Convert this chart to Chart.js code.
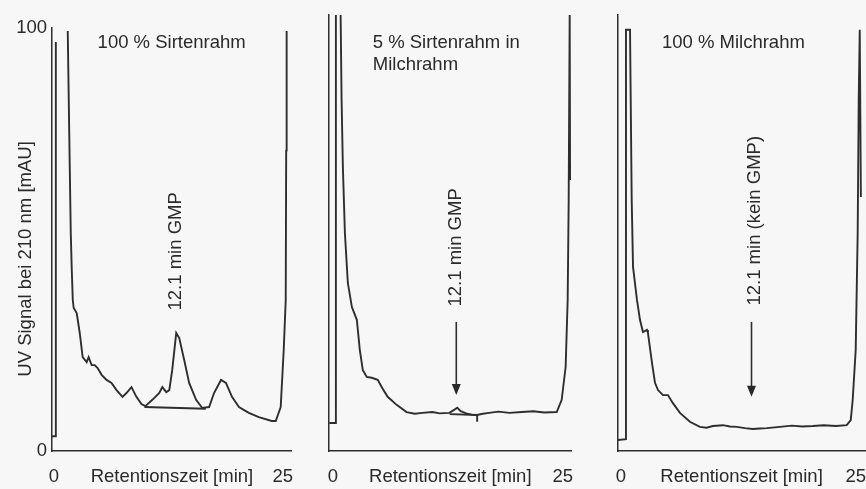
<!DOCTYPE html>
<html lang="de">
<head>
<meta charset="utf-8">
<title>GMP-Nachweis HPLC</title>
<script src="https://cdn.jsdelivr.net/npm/chart.js@4.4.1/dist/chart.umd.min.js"></script>
<style>
  html, body { margin: 0; padding: 0; background: #f7f7f7; }
  body { width: 866px; height: 489px; position: relative; overflow: hidden; }
  canvas { position: absolute; top: 0; }
</style>
</head>
<body>
<canvas id="panel1" width="293" height="489" style="left:0"></canvas>
<canvas id="panel2" width="273" height="489" style="left:300px"></canvas>
<canvas id="panel3" width="276" height="489" style="left:590px"></canvas>
<script>
// Tick labels
const xTickValues = [0, 25];
const yTickValues = [0, 100];

// 100 % Sirtenrahm (retention time in min, signal in mAU, null = off scale)
const sirtenX = [-0.22, 0.22, 0.22, 0.3, 1.52, 1.63, 1.74, 1.85, 1.96, 2.07, 2.17, 2.5, 2.83, 3.15, 3.59, 3.8, 4.13, 4.46, 4.78, 5.22, 5.76, 6.3, 6.85, 7.5, 7.93, 8.48, 9.02, 9.57, 10.0, 10.76, 11.52, 11.85, 12.28, 12.61, 12.93, 13.37, 13.7, 14.24, 14.78, 15.54, 16.2, 16.96, 17.5, 18.26, 18.8, 19.46, 20.22, 21.3, 22.39, 23.8, 24.24, 24.78, 25.11, 25.33, 25.38, 25.43];
const sirtenY = [3.5, 3.5, 96.7, null, 99.3, 83.0, 67.1, 51.5, 42.8, 35.7, 33.8, 32.6, 27.9, 22.2, 21.0, 22.2, 20.3, 20.3, 19.6, 18.0, 16.8, 16.1, 14.4, 12.8, 13.7, 15.1, 12.8, 11.1, 10.6, 12.1, 13.7, 15.1, 13.9, 14.4, 19.1, 27.9, 26.7, 21.5, 16.1, 12.1, 10.2, 10.4, 13.7, 16.8, 16.1, 12.8, 10.4, 9.0, 8.0, 7.1, 7.1, 10.4, 23.9, 35.7, 71.0, 99.3];
const sirtenBaseX = [9.9, 16.6];
const sirtenBaseY = [10.4, 10.0];

// 5 % Sirtenrahm in Milchrahm
const mix5X = [-0.4, 0.32, 0.32, 0.83, 0.94, 1.08, 1.3, 1.62, 2.06, 2.38, 2.6, 2.92, 3.25, 3.68, 4.22, 4.87, 5.3, 5.95, 6.93, 8.01, 8.9, 9.74, 10.82, 11.6, 12.66, 13.1, 13.53, 13.9, 14.5, 15.1, 15.69, 16.3, 16.99, 18.0, 19.2, 20.56, 21.8, 23.0, 24.35, 24.89, 25.32, 25.54, 25.65, 25.76, 25.8];
const mix5Y = [6.6, 6.6, 104, 104, 83, 67.1, 51.5, 39.7, 34.0, 32.2, 31.0, 23.9, 19.1, 17.5, 17.3, 16.8, 15.1, 12.8, 10.9, 9.2, 8.8, 9.0, 9.2, 8.9, 9.0, 9.6, 10.2, 9.4, 8.9, 8.6, 8.5, 8.8, 9.0, 9.3, 9.0, 9.2, 9.4, 9.1, 9.2, 12.1, 19.9, 35.7, 59.3, 104, 64];
const mix5BaseX = [12.7, 15.69, 15.69];
const mix5BaseY = [8.7, 8.5, 6.9];

// 100 % Milchrahm
const milchX = [-0.32, 0.53, 0.53, 0.96, 1.14, 1.28, 1.7, 2.02, 2.34, 2.77, 2.87, 3.3, 3.62, 3.94, 4.47, 5.0, 5.53, 6.28, 7.34, 8.4, 9.1, 9.79, 10.85, 11.6, 12.34, 13.2, 14.04, 14.8, 15.53, 16.91, 18.2, 19.3, 20.43, 21.6, 22.9, 24.04, 24.47, 24.68, 25.0, 25.21, 25.32, 25.43, 25.55];
const milchY = [2.6, 2.8, 99.5, 99.5, 59.3, 43.5, 35.7, 31.0, 28.1, 28.6, 27.9, 20.8, 16.1, 14.4, 13.2, 13.2, 11.3, 9.0, 6.9, 5.7, 5.5, 5.9, 6.1, 5.8, 5.7, 5.4, 5.2, 5.3, 5.4, 5.7, 6.0, 5.8, 5.9, 6.1, 5.9, 6.1, 7.3, 12.1, 23.9, 51.5, 83, 99.5, 60];

const lineColor = '#2e2e2e';
const textColor = '#2a2a2a';
const fontFamily = '"Liberation Sans", Arial, sans-serif';
const fontSize = 18.5;

Chart.defaults.font.family = fontFamily;
Chart.defaults.font.size = fontSize;
Chart.defaults.color = textColor;

function toPoints(xs, ys) {
  return xs.map((x, i) => ({ x: x, y: ys[i] }));
}

// Labels and arrows placed in data units
const notesPlugin = {
  id: 'notes',
  afterDatasetsDraw(chart, args, opts) {
    const { ctx } = chart;
    const xs = chart.scales.x, ys = chart.scales.y;
    ctx.save();
    ctx.fillStyle = textColor;
    ctx.strokeStyle = lineColor;
    ctx.font = fontSize + 'px ' + fontFamily;
    (opts.labels || []).forEach(l => {
      ctx.save();
      ctx.translate(xs.getPixelForValue(l.x), ys.getPixelForValue(l.y));
      if (l.rotate) ctx.rotate(-Math.PI / 2);
      ctx.textAlign = l.align || 'left';
      ctx.textBaseline = 'middle';
      ctx.fillText(l.text, 0, 0);
      ctx.restore();
    });
    (opts.arrows || []).forEach(a => {
      const px = xs.getPixelForValue(a.x);
      const top = ys.getPixelForValue(a.from);
      const tip = ys.getPixelForValue(a.to);
      ctx.lineWidth = 1.6;
      ctx.beginPath();
      ctx.moveTo(px, top);
      ctx.lineTo(px, tip - 8);
      ctx.stroke();
      ctx.beginPath();
      ctx.moveTo(px - 4.5, tip - 11);
      ctx.lineTo(px + 4.5, tip - 11);
      ctx.lineTo(px, tip);
      ctx.closePath();
      ctx.fill();
    });
    ctx.restore();
  }
};

function makePanel(id, cfg) {
  const datasets = cfg.series.map(s => ({
    data: toPoints(s.x, s.y),
    borderColor: lineColor,
    borderWidth: 1.9,
    pointRadius: 0,
    tension: 0,
    spanGaps: false
  }));
  return new Chart(document.getElementById(id), {
    type: 'line',
    data: { datasets: datasets },
    options: {
      responsive: false,
      animation: false,
      layout: { padding: { top: cfg.top, right: 0, bottom: 0, left: 0 } },
      plugins: {
        legend: { display: false },
        tooltip: { enabled: false },
        notes: { labels: cfg.labels, arrows: cfg.arrows }
      },
      scales: {
        x: {
          type: 'linear',
          min: cfg.xMin,
          max: cfg.xMax,
          grid: { display: false, drawTicks: true, tickLength: 15 },
          border: { display: true, color: lineColor, width: 1.5 },
          afterBuildTicks: s => { s.ticks = xTickValues.map(v => ({ value: v })); },
          afterFit: s => { s.height = 38; },
          ticks: { padding: 0, maxRotation: 0, autoSkip: false },
          title: { display: true, text: 'Retentionszeit [min]', padding: { top: 0, bottom: 1 } }
        },
        y: {
          min: 0,
          max: cfg.yMax,
          grid: { display: false, drawTicks: false },
          border: { display: true, color: lineColor, width: 1.5 },
          afterBuildTicks: s => { s.ticks = yTickValues.map(v => ({ value: v })); },
          afterFit: s => { s.width = cfg.yWidth; },
          ticks: { display: cfg.yLabels, padding: 5 },
          title: { display: false }
        }
      }
    },
    plugins: [notesPlugin]
  });
}

makePanel('panel1', {
  top: 28, yMax: 100, yWidth: 52, yLabels: true, xMin: -0.2, xMax: 26,
  series: [{ x: sirtenX, y: sirtenY }, { x: sirtenBaseX, y: sirtenBaseY }],
  labels: [
    { text: 'UV Signal bei 210 nm [mAU]', x: -3.1, y: 45.4, rotate: true, align: 'center' },
    { text: '100 % Sirtenrahm', x: 4.78, y: 96.5 },
    { text: '12.1 min GMP', x: 13.37, y: 47.2, rotate: true, align: 'center' }
  ],
  arrows: []
});

makePanel('panel2', {
  top: 15, yMax: 103, yWidth: 29, yLabels: false, xMin: -0.43, xMax: 25.97,
  series: [{ x: mix5X, y: mix5Y }, { x: mix5BaseX, y: mix5BaseY }],
  labels: [
    { text: '5 % Sirtenrahm in', x: 4.33, y: 96.5 },
    { text: 'Milchrahm', x: 4.33, y: 91.3 },
    { text: '12.1 min GMP', x: 13.42, y: 48.1, rotate: true, align: 'center' }
  ],
  arrows: [{ x: 13.42, from: 30.5, to: 13.2 }]
});

makePanel('panel3', {
  top: 15, yMax: 103, yWidth: 28, yLabels: false, xMin: -0.32, xMax: 26.0,
  series: [{ x: milchX, y: milchY }],
  labels: [
    { text: '100 % Milchrahm', x: 4.36, y: 96.5 },
    { text: '12.1 min (kein GMP)', x: 14.26, y: 54.4, rotate: true, align: 'center' }
  ],
  arrows: [{ x: 13.9, from: 30.5, to: 12.8 }]
});
</script>
</body>
</html>
